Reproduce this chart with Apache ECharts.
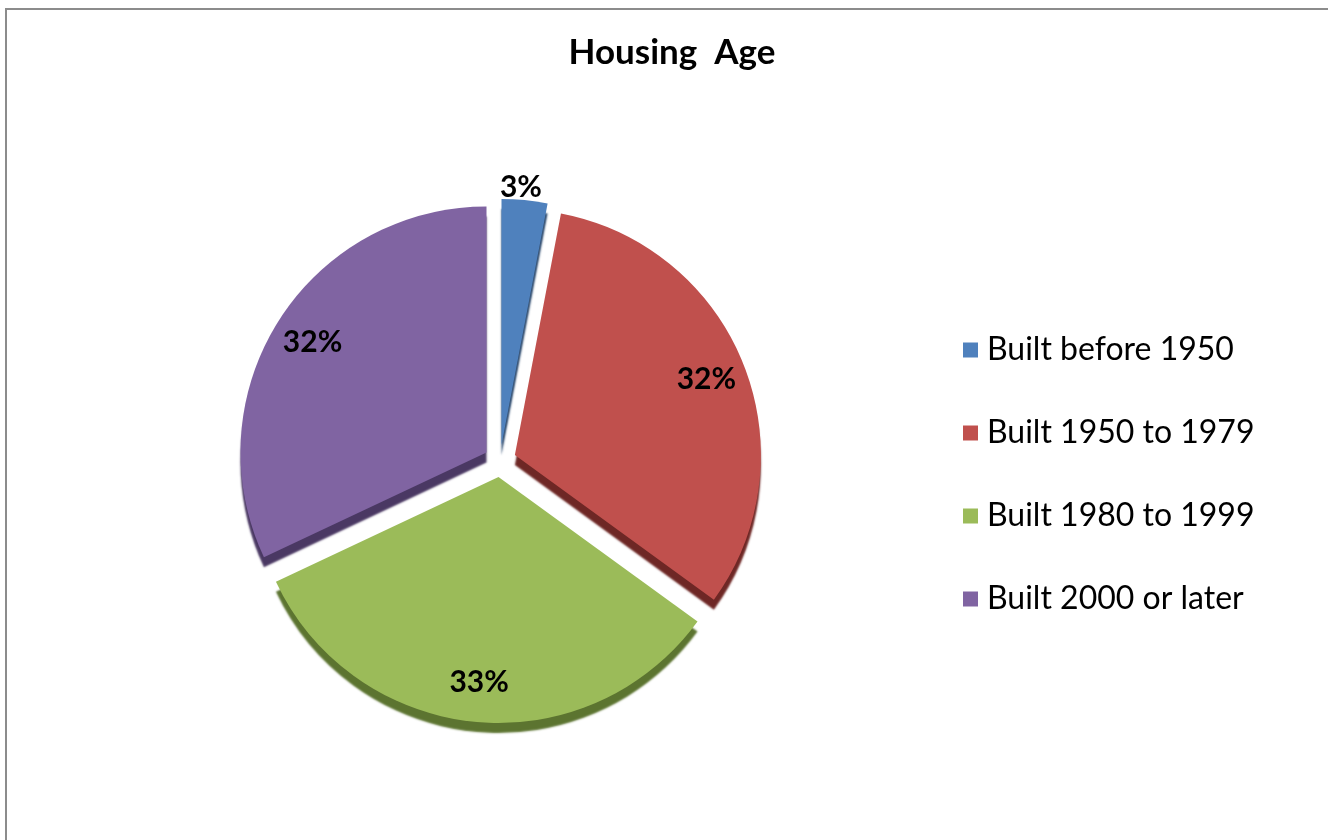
<!DOCTYPE html>
<html>
<head>
<meta charset="utf-8">
<title>Housing Age</title>
<script src="https://cdn.jsdelivr.net/npm/echarts@6/dist/echarts.min.js"></script>
<style>
    html, body { margin: 0; padding: 0; background: #fff; }
    #frame {
        position: absolute; left: 5px; top: 8px; width: 1325px; height: 850px;
        border: 2px solid #8c8c8c; box-sizing: border-box;
    }
    #main { position: absolute; left: 0; top: 0; width: 1328px; height: 840px; }
</style>
</head>
<body>
<div id="frame"></div>
<div id="main"></div>
<script>
// 数据
var categories = ["Built before 1950", "Built 1950 to 1979", "Built 1980 to 1999", "Built 2000 or later"];
var shares = [3, 32, 33, 32];
var colors = ["#4f81bd", "#c0504d", "#9bbb59", "#8064a2"];
var edgeColors = ["#2c4a6e", "#6e2725", "#5c7430", "#4a3863"];

var center = [500, 461];
var outerR = 246;

var pieData = categories.map(function (name, i) {
    return {
        name: name,
        value: shares[i],
        selected: true,
        itemStyle: {
            color: colors[i],
            shadowColor: edgeColors[i],
            shadowOffsetY: 10,
            shadowOffsetX: 0,
            shadowBlur: 2
        }
    };
});

// 标签用透明的环形系列，使百分比靠近外圈
var labelData = categories.map(function (name, i) {
    var item = { name: name, value: shares[i], selected: true };
    if (i === 0) {
        // 小扇区的标签放到外面（用空行把文字往上推）
        item.label = { formatter: "{c}%\n \n \n ", lineHeight: 35 };
    }
    return item;
});

var myChart = echarts.init(document.getElementById("main"));

myChart.setOption({
    animation: false,
    title: {
        text: "Housing  Age",
        left: 667,
        textAlign: "center",
        top: 30,
        textStyle: { fontFamily: "Lato", fontWeight: "bold", fontSize: 35, color: "#000" }
    },
    legend: {
        orient: "vertical",
        left: 958,
        top: 329,
        itemWidth: 15,
        itemHeight: 15,
        itemGap: 51,
        icon: "rect",
        data: categories,
        textStyle: { fontFamily: "Lato", fontSize: 32, lineHeight: 32, color: "#000", padding: [0, 0, 0, 4] }
    },
    series: [
        {
            type: "pie",
            center: center,
            radius: [0, outerR],
            startAngle: 90,
            selectedMode: "multiple",
            selectedOffset: 16,
            silent: true,
            label: { show: false },
            labelLine: { show: false },
            data: pieData
        },
        {
            type: "pie",
            center: center,
            radius: [160, outerR],
            startAngle: 90,
            selectedMode: "multiple",
            selectedOffset: 16,
            silent: true,
            legendHoverLink: false,
            itemStyle: { color: "transparent" },
            label: {
                show: true,
                position: "inside",
                formatter: "{c}%",
                fontFamily: "Lato",
                fontWeight: "bold",
                fontSize: 30,
                color: "#000"
            },
            labelLine: { show: false },
            data: labelData
        }
    ]
});
</script>
</body>
</html>
